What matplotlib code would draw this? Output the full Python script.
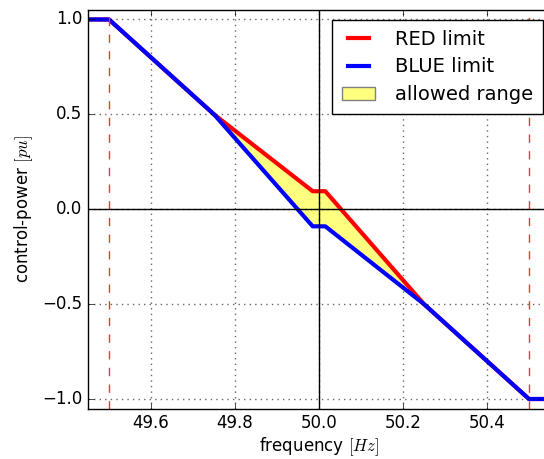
import numpy as np
import matplotlib
matplotlib.use("Agg")
import matplotlib.pyplot as plt

# === DATA ===
red_f = [49.45, 49.5, 49.75, 49.985, 50.015, 50.25, 50.5, 50.55]
red_p = [1.0, 1.0, 0.5, 0.095, 0.095, -0.5, -1.0, -1.0]
blue_f = [49.45, 49.5, 49.75, 49.985, 50.015, 50.25, 50.5, 50.55]
blue_p = [1.0, 1.0, 0.5, -0.09, -0.09, -0.5, -1.0, -1.0]
limit_f = [49.5, 50.5]

plt.style.use("classic")
plt.rcParams["figure.facecolor"] = "white"
plt.rcParams["savefig.facecolor"] = "white"
plt.rcParams["axes.formatter.useoffset"] = False

fig = plt.figure(figsize=(5.44, 4.59), dpi=100)
ax = fig.add_axes([88 / 544, 50.5 / 459, 462 / 544, 398.5 / 459])

ax.fill_between(red_f, blue_p, red_p, color="yellow", alpha=0.5,
                edgecolor="black", linewidth=0, label="allowed range")
ax.plot(red_f, red_p, color="red", linewidth=3, label="RED limit")
ax.plot(blue_f, blue_p, color="blue", linewidth=3, label="BLUE limit")

for f in limit_f:
    ax.axvline(f, color="#ff3030", linestyle="--", linewidth=1)
ax.axhline(0, color="black", linewidth=1)
ax.axvline(50.0, color="black", linewidth=1)

ax.set_xlim(49.45, 50.55)
ax.set_ylim(-1.05, 1.05)
ax.set_xticks([49.6, 49.8, 50.0, 50.2, 50.4])
ax.set_yticks([-1.0, -0.5, 0.0, 0.5, 1.0])
ax.grid(True, color="black", linestyle=":", linewidth=1, alpha=0.6)
ax.set_xlabel(r"frequency $[Hz]$", labelpad=2)
ax.set_ylabel(r"control-power $[pu]$")

# legend order: red, blue, fill
h, l = ax.get_legend_handles_labels()
order = [l.index("RED limit"), l.index("BLUE limit"), l.index("allowed range")]
leg = ax.legend([h[i] for i in order], [l[i] for i in order],
                loc="upper right", bbox_to_anchor=(543 / 544, 1 - 20 / 459),
                bbox_transform=fig.transFigure, borderaxespad=0,
                fontsize=14, handlelength=1.7, handletextpad=1.05,
                labelspacing=0.45, borderpad=0.5)
leg.get_patches()[0].set_edgecolor("gray")
leg.get_patches()[0].set_linewidth(1)

fig.savefig("out.png", dpi=100)
